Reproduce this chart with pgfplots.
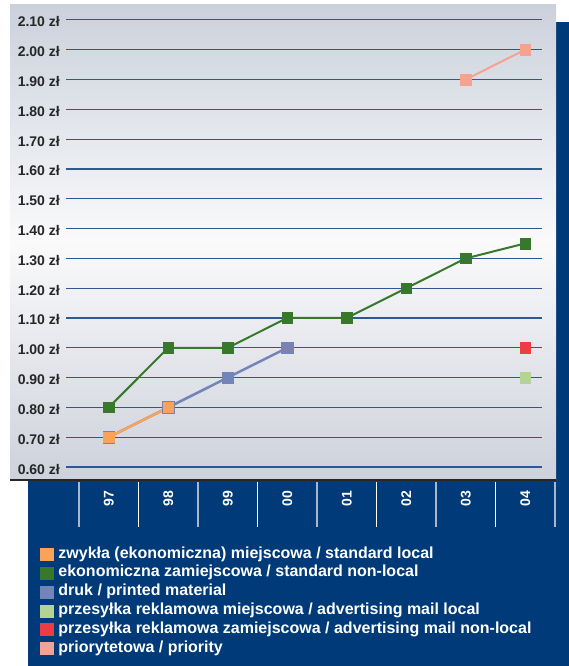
\documentclass[border=0pt]{standalone}
\usepackage{fontspec}
\setmainfont{Liberation Sans}
\usepackage{pgfplots}
\pgfplotsset{compat=1.18}

\definecolor{navy}{HTML}{003A78}
\definecolor{bgtop}{HTML}{CBD1DC}
\definecolor{bgmid}{HTML}{FAFAFB}
\definecolor{bgbot}{HTML}{CDD1DB}
\definecolor{gridblue}{HTML}{2F5791}
\definecolor{sepgray}{HTML}{A9B7CE}
\definecolor{cOrange}{HTML}{F9A35A}
\definecolor{cGreen}{HTML}{37782A}
\definecolor{cBlue}{HTML}{7384B8}
\definecolor{cLight}{HTML}{B3D495}
\definecolor{cRed}{HTML}{EE3C44}
\definecolor{cPink}{HTML}{F5A291}

\begin{document}
\begin{tikzpicture}
\useasboundingbox (0bp,0bp) rectangle (569bp,666bp);
% navy frame behind the panel
\fill[navy] (28bp,0bp) rectangle (569bp,644bp);
% light panel with vertical gradient (light in the middle)
\shade[top color=bgtop, bottom color=bgbot, middle color=bgmid] (10bp,186bp) rectangle (556bp,661bp);
\draw[black!85, line width=1.5bp] (10bp,186bp) -- (556bp,186bp);

\begin{axis}[
  at={(66bp,186bp)}, anchor=south west,
  scale only axis, width=476bp, height=475bp,
  xmin=-0.7185, xmax=7.2815, ymin=0.5564, ymax=2.150,
  axis line style={draw=none},
  major tick length=0pt,
  xtick={0,1,2,3,4,5,6,7},
  xticklabels={97,98,99,00,01,02,03,04},
  ytick={0.6,0.7,0.8,0.9,1.0,1.1,1.2,1.3,1.4,1.5,1.6,1.7,1.8,1.9,2.0,2.1},
  ymajorgrids, grid style={gridblue, line width=1.2bp},
  yticklabel={\pgfmathprintnumber[fixed,fixed zerofill,precision=2]{\tick}~zł},
  /pgf/number format/assume math mode=true,
  tick label style={font=\fontsize{14bp}{16bp}\selectfont\bfseries},
  yticklabel style={anchor=east, inner sep=0pt, xshift=-6bp, yshift=-2bp, text=black!85},
  xticklabel style={rotate=90, anchor=east, inner sep=0pt, text=white},
  xticklabel shift=10.7bp,
  clip=false,
  legend style={at={(axis description cs:-0.0546,-0.14)}, anchor=north west,
    draw=none, fill=none, inner sep=0pt, outer sep=0pt,
    font=\fontsize{16bp}{18bp}\selectfont\bfseries, text=white,
    row sep=3.9bp,
    nodes={inner sep=0pt, text height=11.5bp, text depth=3.5bp},
    /tikz/every odd column/.append style={column sep=5.5bp}},
  legend cell align=left,
  legend image code/.code={\fill[#1] (0bp,-6bp) rectangle (12.5bp,6bp);},
]
\addlegendimage{cOrange}
\addlegendentry{zwykła (ekonomiczna) miejscowa / standard local}
\addlegendimage{cGreen}
\addlegendentry{ekonomiczna zamiejscowa / standard non-local}
\addlegendimage{cBlue}
\addlegendentry{druk / printed material}
\addlegendimage{cLight}
\addlegendentry{przesyłka reklamowa miejscowa / advertising mail local}
\addlegendimage{cRed}
\addlegendentry{przesyłka reklamowa zamiejscowa / advertising mail non-local}
\addlegendimage{cPink}
\addlegendentry{priorytetowa / priority}

% druk / printed material
\addplot[forget plot, cBlue, line width=2.5bp, mark=square*, mark size=5.8bp, mark options={line width=0.4bp}]
  coordinates {(0,0.70) (1,0.80) (2,0.90) (3,1.00)};
% standard local
\addplot[forget plot, cOrange, line width=2.5bp, mark=square*, mark size=5.3bp, mark options={line width=0.4bp}]
  coordinates {(0,0.70) (1,0.80)};
% standard non-local
\addplot[forget plot, cGreen, line width=2bp, mark=square*, mark size=5.3bp, mark options={line width=0.4bp}]
  coordinates {(0,0.80) (1,1.00) (2,1.00) (3,1.10) (4,1.10) (5,1.20) (6,1.30) (7,1.35)};
% priority
\addplot[forget plot, cPink, line width=2bp, mark=square*, mark size=5.3bp, mark options={line width=0.4bp}]
  coordinates {(6,1.90) (7,2.00)};
% advertising mail non-local
\addplot[forget plot, cRed, only marks, mark=square*, mark size=5.3bp, mark options={line width=0.4bp}]
  coordinates {(7,1.00)};
% advertising mail local
\addplot[forget plot, cLight, only marks, mark=square*, mark size=5.3bp, mark options={line width=0.4bp}]
  coordinates {(7,0.90)};

% category separators in the label band
\pgfplotsinvokeforeach{0.5,2.5,4.5,6.5}{
  \draw[white, line width=1.2bp] (axis cs:#1,0.5564) ++(0bp,-1.5bp) -- ++(0bp,-45bp);}
\pgfplotsinvokeforeach{-0.5,1.5,3.5,5.5,7.5}{
  \draw[sepgray, line width=1.2bp] (axis cs:#1,0.5564) ++(0bp,-1.5bp) -- ++(0bp,-45bp);}
\end{axis}
\end{tikzpicture}
\end{document}
